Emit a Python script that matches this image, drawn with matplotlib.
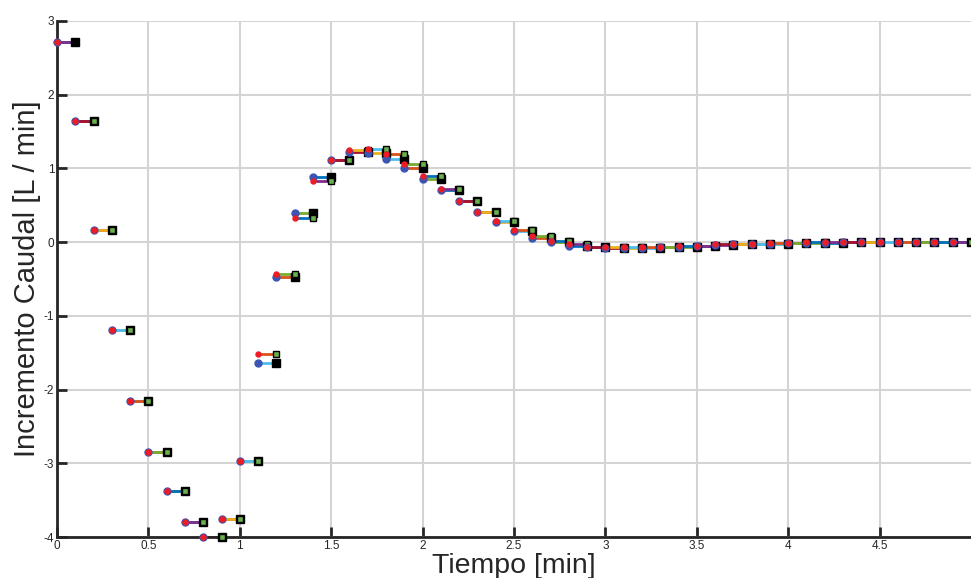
import numpy as np
import matplotlib.pyplot as plt

plt.rcParams['font.family'] = ['Liberation Sans', 'DejaVu Sans']
plt.rcParams['axes.unicode_minus'] = False

# Flow increment per 0.1 min step, two runs
dt = 0.1
tiempo = np.round(np.arange(0, 5.0, dt), 2)

caudal_a = [2.71, 1.64, 0.16, -1.19, -2.16, -2.85, -3.38, -3.80, -4.00, -3.75,
            -2.97, -1.52, -0.43, 0.33, 0.83, 1.12, 1.25, 1.26, 1.19, 1.06,
            0.90, 0.72, 0.56, 0.41, 0.28, 0.16, 0.08, 0.01, -0.03, -0.06,
            -0.07, -0.07, -0.07, -0.06, -0.05, -0.05, -0.03, -0.02, -0.02, -0.01,
            -0.005, 0.0, 0.0, 0.0, 0.0, 0.0, 0.0, 0.0, 0.0, 0.0]
caudal_b = [2.71, 1.64, 0.16, -1.19, -2.16, -2.85, -3.38, -3.80, -4.00, -3.75,
            -2.97, -1.64, -0.47, 0.39, 0.89, 1.12, 1.22, 1.21, 1.13, 1.01,
            0.86, 0.71, 0.56, 0.41, 0.27, 0.15, 0.06, 0.00, -0.05, -0.07,
            -0.08, -0.08, -0.08, -0.07, -0.06, -0.05, -0.04, -0.03, -0.02, -0.02,
            -0.01, -0.01, -0.005, 0.0, 0.0, 0.0, 0.0, 0.0, 0.0, 0.0]

# MATLAB default palette, in the order the steps pick it up
colores = ['#7E2F8E', '#A2142F', '#EDB120', '#4DBEEE', '#D95319', '#77AC30', '#0072BD']

xticks = np.arange(0, 5.0, 0.5)
xlabels = ['0', '0.5', '1', '1.5', '2', '2.5', '3', '3.5', '4', '4.5']
yticks = np.arange(-4, 4, 1)

fig = plt.figure(figsize=(9.71, 5.78), dpi=100)
ax = fig.add_axes([0.0587, 0.0709, 0.9413, 0.8928])

for k, t in enumerate(tiempo):
    # second run underneath
    cb = colores[(k - 1) % 7]
    ax.plot([t, t + dt], [caudal_b[k], caudal_b[k]], color=cb, lw=2, solid_capstyle='butt')
    ax.plot(t, caudal_b[k], 'o', ms=5, mfc='#3a55b4', mec='#3a55b4', clip_on=False, zorder=3)
    ax.plot(t + dt, caudal_b[k], 's', ms=5.5, mfc='black', mec='black', clip_on=False, zorder=3)
    # first run on top
    ca = colores[k % 7]
    ax.plot([t, t + dt], [caudal_a[k], caudal_a[k]], color=ca, lw=2, solid_capstyle='butt')
    ax.plot(t, caudal_a[k], 'o', ms=3.6, mfc='#ee1c25', mec='#ee1c25', clip_on=False, zorder=3)
    if k > 0:
        ax.plot(t + dt, caudal_a[k], 's', ms=4.6, mfc='#6ab04c', mec='black', mew=1,
                clip_on=False, zorder=3)

ax.set_xlim(0, 5)
ax.set_ylim(-4, 3)
ax.set_xticks(xticks)
ax.set_xticklabels(xlabels)
ax.set_yticks(yticks)
ax.grid(True, color='#d4d4d4', lw=1.5)
ax.set_axisbelow(True)

for s in ['top', 'right']:
    ax.spines[s].set_visible(False)
for s in ['left', 'bottom']:
    ax.spines[s].set_linewidth(2)
    ax.spines[s].set_color('#262626')

ax.tick_params(direction='in', length=7, width=2, color='#262626',
               labelsize=8.5, labelcolor='#262626', pad=2)

ax.set_xlabel('Tiempo [min]', fontsize=20.5, color='#262626', labelpad=1)
ax.set_ylabel('Incremento Caudal [L / min]', fontsize=21, color='#262626', labelpad=2)

fig.savefig('out.png', dpi=100)
